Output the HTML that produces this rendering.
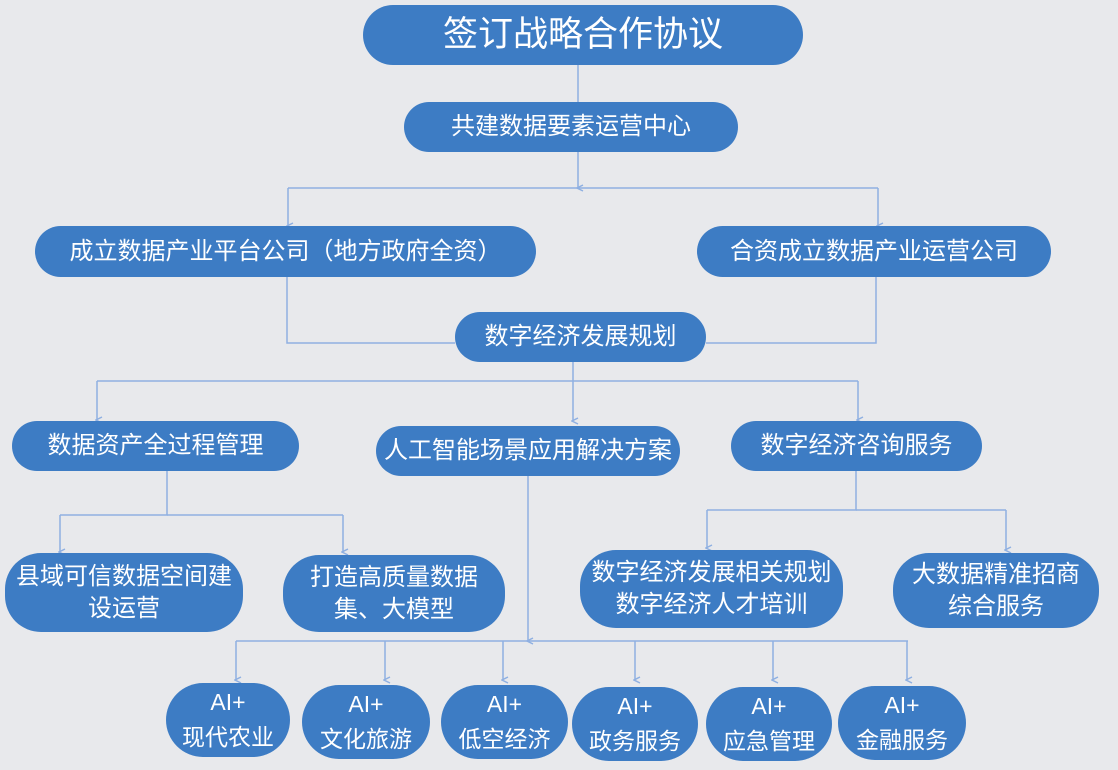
<!DOCTYPE html>
<html><head><meta charset="utf-8"><style>
body{margin:0;width:1118px;height:770px;background:#e8e9ec;position:relative;overflow:hidden;font-family:"Liberation Sans","Noto Sans CJK SC",sans-serif}
.b{position:absolute;background:#3d7cc4;color:#fff;display:flex;align-items:center;justify-content:center;text-align:center;border-radius:28px;font-size:24px;line-height:32px;box-sizing:border-box;white-space:nowrap}
.ai{border-radius:40px;font-size:23px;line-height:35px}
svg{position:absolute;left:0;top:0}
</style></head><body>
<svg width="1118" height="770" fill="none" stroke="#8fb0e2" stroke-width="1.5">
<defs><marker id="a" markerWidth="8" markerHeight="8" refX="4" refY="6" orient="auto" markerUnits="userSpaceOnUse"><path d="M1,1 L4,7 L7,1" stroke="#8fb0e2" fill="none"/></marker></defs>
<path d="M578 65V102"/>
<path d="M578 152V188" marker-end="url(#a)"/>
<path d="M288 188H878"/>
<path d="M288 188V226" marker-end="url(#a)"/>
<path d="M878 188V226" marker-end="url(#a)"/>
<path d="M287 277V343H455"/>
<path d="M876 277V343H706"/>
<path d="M573 362V381"/>
<path d="M97 381H858"/>
<path d="M97 381V420" marker-end="url(#a)"/>
<path d="M573 381V421" marker-end="url(#a)"/>
<path d="M858 381V420" marker-end="url(#a)"/>
<path d="M167 471V515H60"/><path d="M167 515H343"/>
<path d="M60 515V552" marker-end="url(#a)"/>
<path d="M343 515V552" marker-end="url(#a)"/>
<path d="M856 471V510H707"/><path d="M856 510H1006"/>
<path d="M707 510V548" marker-end="url(#a)"/>
<path d="M1006 510V550" marker-end="url(#a)"/>
<path d="M528 476V641" marker-end="url(#a)"/>
<path d="M236 641H908"/>
<path d="M236 641V680" marker-end="url(#a)"/>
<path d="M385 641V680" marker-end="url(#a)"/>
<path d="M503 641V680" marker-end="url(#a)"/>
<path d="M635 641V680" marker-end="url(#a)"/>
<path d="M773 641V680" marker-end="url(#a)"/>
<path d="M907 641V680" marker-end="url(#a)"/>
</svg>
<div class="b" style="left:363px;top:5px;width:440px;height:60px;border-radius:30px;font-size:35px">签订战略合作协议</div>
<div class="b" style="left:404px;top:102px;width:334px;height:50px">共建数据要素运营中心</div>
<div class="b" style="left:35px;top:226px;width:501px;height:51px">成立数据产业平台公司（地方政府全资）</div>
<div class="b" style="left:697px;top:226px;width:354px;height:51px">合资成立数据产业运营公司</div>
<div class="b" style="left:455px;top:312px;width:251px;height:50px">数字经济发展规划</div>
<div class="b" style="left:12px;top:421px;width:287px;height:50px">数据资产全过程管理</div>
<div class="b" style="left:376px;top:426px;width:304px;height:50px">人工智能场景应用解决方案</div>
<div class="b" style="left:731px;top:421px;width:251px;height:50px">数字经济咨询服务</div>
<div class="b" style="left:5px;top:553px;width:238px;height:79px;border-radius:36px">县域可信数据空间建<br>设运营</div>
<div class="b" style="left:283px;top:555px;width:222px;height:77px;border-radius:36px">打造高质量数据<br>集、大模型</div>
<div class="b" style="left:580px;top:550px;width:263px;height:78px;border-radius:36px">数字经济发展相关规划<br>数字经济人才培训</div>
<div class="b" style="left:893px;top:553px;width:206px;height:75px;border-radius:36px">大数据精准招商<br>综合服务</div>
<div class="b ai" style="left:166px;top:683px;width:124px;height:74px">AI+<br>现代农业</div>
<div class="b ai" style="left:302px;top:685px;width:128px;height:74px">AI+<br>文化旅游</div>
<div class="b ai" style="left:441px;top:685px;width:127px;height:74px">AI+<br>低空经济</div>
<div class="b ai" style="left:572px;top:687px;width:126px;height:74px">AI+<br>政务服务</div>
<div class="b ai" style="left:706px;top:687px;width:126px;height:74px">AI+<br>应急管理</div>
<div class="b ai" style="left:838px;top:686px;width:128px;height:74px">AI+<br>金融服务</div>
</body></html>
